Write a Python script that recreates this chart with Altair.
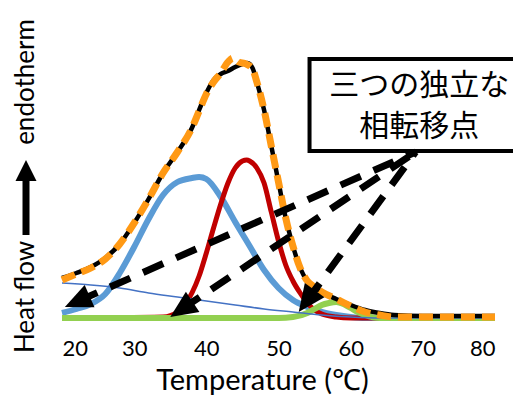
import math
import altair as alt
import pandas as pd

# ---------------- data ----------------
# measured DSC curve (black)
T_black = [20, 22, 24, 26, 28, 30, 32, 34, 36, 38, 39, 40, 41, 42, 43, 44, 45, 45.7, 46.4, 47, 48, 49, 50,
           51, 52, 53, 54, 55, 56, 58, 60, 62, 64, 66, 70, 75, 80]
v_black = [40, 45, 51, 60, 74, 95, 119, 145, 166, 190, 208, 225, 238, 244, 247, 251, 254, 255, 250, 236, 208, 172, 136,
           100, 72, 50, 37, 31, 26, 19, 13, 8, 5, 3, 2, 2, 2]

# fitted sum (orange dashed)
T_fit = [20, 22, 24, 26, 28, 30, 32, 34, 36, 38, 39, 40, 41, 42, 43, 43.7, 44.5, 45.5, 46.4, 47, 48, 49, 50,
         51, 52, 53, 54, 55, 56, 58, 60, 62, 64, 66, 70, 75, 80]
v_fit = [38, 44, 50, 59, 74, 95, 119, 145, 166, 190, 207, 224, 236, 245, 256, 260, 256, 254, 249, 236, 208, 172, 136,
         100, 72, 50, 37, 31, 26, 19, 12, 6, 3, 1, 1, 1, 1]

# component 1 (blue)
T_blue = [20, 22, 24, 26, 28, 30, 32, 34, 36, 38, 39, 40, 42, 44, 46, 48, 50, 52, 54, 56, 58, 60, 62, 80]
v_blue = [5, 9, 14, 24, 45, 71, 99, 123, 136, 140, 141, 139, 121, 96, 72, 48, 30, 18, 11, 6, 3, 1, 0, 0]

# component 2 (red)
T_red = [20, 34, 36, 37, 38, 39, 40, 41, 42, 43, 44, 45, 45.6, 46, 47, 48, 49, 50, 51, 52, 53, 54, 55, 56, 58, 60, 80]
v_red = [0, 1, 6, 13, 25, 42, 65, 90, 114, 135, 150, 157, 158, 157, 150, 135, 106, 77, 53, 37, 25, 15, 8, 4, 1, 0, 0]

# component 3 (green)
T_green = [20, 50, 52, 54, 55, 56, 57, 58, 59, 60, 61, 62, 64, 80]
v_green = [0, 0, 1, 5, 9, 13, 15, 16, 14, 10, 6, 3, 0, 0]

# baseline (thin blue)
T_base = [20, 24, 28, 32, 36, 40, 44, 48, 52, 56, 60, 64, 80]
v_base = [35, 33, 30, 25, 21, 17, 13, 9, 6, 3, 1, 0, 0]

x_ticks = [20, 30, 40, 50, 60, 70, 80]
x_title = "Temperature (℃)"
y_title_low = "Heat flow"
y_title_high = "endotherm"
box_lines = ["三つの独立な", "相転移点"]

# annotation geometry (data coordinates)
box_T = [54.3, 84.5]
box_v = [167, 259]
box_text_T = 69.5
box_text_v = [232, 191]
arrow_start = (69.0, 166)
arrow_tips = [(20.4, 11), (35.0, 1), (52.8, 6)]

# ---------------- chart ----------------
W, H = 433, 280
X_DOM = [20, 80]
Y_DOM = [0, 280]
kx = W / (X_DOM[1] - X_DOM[0])
ky = H / (Y_DOM[1] - Y_DOM[0])

FONT = "Lato"
x_scale = alt.Scale(domain=X_DOM, nice=False, zero=False)
y_scale = alt.Scale(domain=Y_DOM, nice=False, zero=False)
x_axis = alt.Axis(values=x_ticks, format="d", domain=False, ticks=False, grid=False,
                  labelFontSize=22, labelFont=FONT, labelColor="black", labelPadding=20,
                  title=x_title, titleFont=FONT, titleFontSize=29, titleFontWeight="normal",
                  titleColor="black", titlePadding=7, titleX=200)


def enc(chart, xf="T", yf="v"):
    return chart.encode(x=alt.X(f"{xf}:Q", scale=x_scale, axis=x_axis),
                        y=alt.Y(f"{yf}:Q", scale=y_scale, axis=None))


def line(T, v, color, width, dash=None):
    kw = dict(color=color, strokeWidth=width, interpolate="monotone", clip=False)
    if dash:
        kw["strokeDash"] = dash
        kw["strokeCap"] = "butt"
    return enc(alt.Chart(pd.DataFrame({"T": T, "v": v})).mark_line(**kw))


blue = line(T_blue, v_blue, "#5B9BD5", 6)
red = line(T_red, v_red, "#C00000", 5)
green = line(T_green, v_green, "#92D050", 6)
base = line(T_base, v_base, "#4472C4", 1.6)
black = line(T_black, v_black, "black", 4.5)
fit = line(T_fit, v_fit, "#FF9914", 7, dash=[14, 7])

box = alt.Chart(pd.DataFrame({"T": [box_T[0]], "T2": [box_T[1]], "v": [box_v[0]], "v2": [box_v[1]]})).mark_rect(
    fill="white", stroke="black", strokeWidth=4, clip=False
).encode(x=alt.X("T:Q", scale=x_scale, axis=x_axis), x2="T2:Q",
         y=alt.Y("v:Q", scale=y_scale, axis=None), y2="v2:Q")

box_text = enc(alt.Chart(pd.DataFrame({"T": [box_text_T] * len(box_lines), "v": box_text_v, "t": box_lines}))
               .mark_text(font="Noto Sans CJK JP", fontSize=30, color="black", align="center",
                          baseline="middle", clip=False)).encode(text="t:N")

# dashed arrows
HEAD = 27  # px, arrow head box size
rows_line, rows_head = [], []
for i, (tT, tv) in enumerate(arrow_tips):
    dx = (tT - arrow_start[0]) * kx
    dy = (tv - arrow_start[1]) * ky
    L = math.hypot(dx, dy)
    ux, uy = dx / L, dy / L
    back = HEAD / 2
    cT, cv = tT - ux * back / kx, tv - uy * back / ky
    ang = math.degrees(math.atan2(dx, dy)) % 360
    rows_line += [{"id": i, "T": arrow_start[0], "v": arrow_start[1]}, {"id": i, "T": cT, "v": cv}]
    rows_head.append({"T": cT, "v": cv, "ang": ang})

arrow_lines = enc(alt.Chart(pd.DataFrame(rows_line)).mark_line(
    color="black", strokeWidth=7, strokeDash=[22, 14], strokeCap="butt", clip=False)).encode(detail="id:N")
head_path = "M0,-1 L0.9,1 L-0.9,1 Z"
arrow_heads = enc(alt.Chart(pd.DataFrame(rows_head)).mark_point(
    shape=head_path, filled=True, color="black", opacity=1, size=HEAD * HEAD, strokeWidth=0, clip=False)
).encode(angle=alt.Angle("ang:Q", scale=None))

# y "axis" title made of text + thick arrow (pixel offsets relative to plot area)
one = pd.DataFrame({"a": [0]})
y_low = alt.Chart(one).mark_text(text=y_title_low, angle=270, font=FONT, fontSize=26, color="black",
                                 align="center", baseline="middle").encode(x=alt.value(-36), y=alt.value(259))
y_high = alt.Chart(one).mark_text(text=y_title_high, angle=270, font=FONT, fontSize=26, color="black",
                                  align="center", baseline="middle").encode(x=alt.value(-36), y=alt.value(44))
y_shaft = alt.Chart(one).mark_rule(color="black", strokeWidth=7, strokeCap="butt").encode(
    x=alt.value(-36), y=alt.value(197), y2=alt.value(140))
y_head = alt.Chart(one).mark_point(shape="M0,-1 L1,1 L-1,1 Z", filled=True, color="black", opacity=1,
                                   size=441, strokeWidth=0).encode(x=alt.value(-36), y=alt.value(132.5))

chart = alt.layer(
    blue, red, green, base, black, fit, box, box_text, arrow_lines, arrow_heads,
    y_low, y_high, y_shaft, y_head
).properties(
    width=W, height=H,
    autosize=alt.AutoSizeParams(type="none"),
    padding={"left": 54, "top": 30, "right": 18, "bottom": 78},
    background="white",
).configure_view(stroke=None)

chart.save("out.html", embed_options={"renderer": "svg", "actions": False})
